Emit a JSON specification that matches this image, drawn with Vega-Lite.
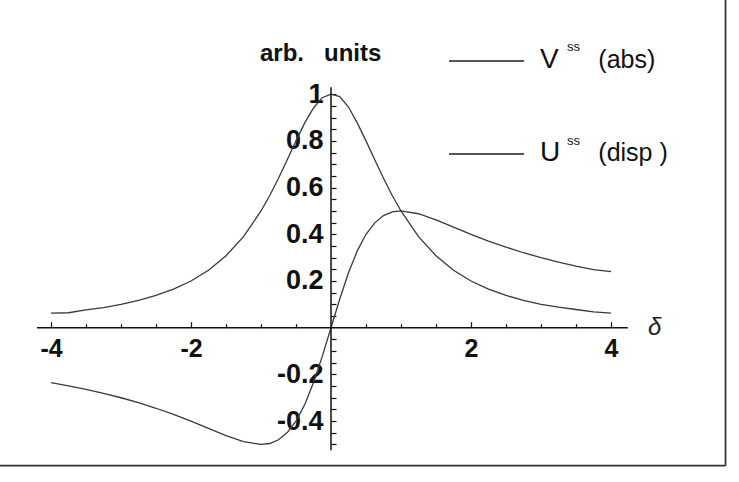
{
  "$schema": "https://vega.github.io/schema/vega-lite/v6.json",
  "width": 739,
  "height": 482,
  "autosize": {"type": "none"},
  "padding": 0,
  "background": "white",
  "config": {"view": {"stroke": null}},
  "datasets": {
    "curves": [
      {"d": -4, "series": "V", "v": 0.062}, {"d": -3.75, "series": "V", "v": 0.064}, {"d": -3.5, "series": "V", "v": 0.076}, {"d": -3.25, "series": "V", "v": 0.086}, {"d": -3, "series": "V", "v": 0.1}, {"d": -2.75, "series": "V", "v": 0.117}, {"d": -2.5, "series": "V", "v": 0.138}, {"d": -2.25, "series": "V", "v": 0.165}, {"d": -2, "series": "V", "v": 0.2}, {"d": -1.75, "series": "V", "v": 0.246}, {"d": -1.5, "series": "V", "v": 0.308}, {"d": -1.25, "series": "V", "v": 0.39}, {"d": -1, "series": "V", "v": 0.5}, {"d": -0.875, "series": "V", "v": 0.566}, {"d": -0.75, "series": "V", "v": 0.64}, {"d": -0.625, "series": "V", "v": 0.719}, {"d": -0.5, "series": "V", "v": 0.8}, {"d": -0.375, "series": "V", "v": 0.877}, {"d": -0.25, "series": "V", "v": 0.941}, {"d": -0.125, "series": "V", "v": 0.985}, {"d": 0, "series": "V", "v": 1.0}, {"d": 0.125, "series": "V", "v": 0.99}, {"d": 0.25, "series": "V", "v": 0.945}, {"d": 0.375, "series": "V", "v": 0.877}, {"d": 0.5, "series": "V", "v": 0.8}, {"d": 0.625, "series": "V", "v": 0.719}, {"d": 0.75, "series": "V", "v": 0.64}, {"d": 0.875, "series": "V", "v": 0.566}, {"d": 1, "series": "V", "v": 0.5}, {"d": 1.25, "series": "V", "v": 0.39}, {"d": 1.5, "series": "V", "v": 0.308}, {"d": 1.75, "series": "V", "v": 0.246}, {"d": 2, "series": "V", "v": 0.2}, {"d": 2.25, "series": "V", "v": 0.165}, {"d": 2.5, "series": "V", "v": 0.138}, {"d": 2.75, "series": "V", "v": 0.117}, {"d": 3, "series": "V", "v": 0.1}, {"d": 3.25, "series": "V", "v": 0.088}, {"d": 3.5, "series": "V", "v": 0.078}, {"d": 3.75, "series": "V", "v": 0.068}, {"d": 4, "series": "V", "v": 0.062},
      {"d": -4, "series": "U", "v": -0.235}, {"d": -3.75, "series": "U", "v": -0.249}, {"d": -3.5, "series": "U", "v": -0.264}, {"d": -3.25, "series": "U", "v": -0.281}, {"d": -3, "series": "U", "v": -0.3}, {"d": -2.75, "series": "U", "v": -0.321}, {"d": -2.5, "series": "U", "v": -0.345}, {"d": -2.25, "series": "U", "v": -0.371}, {"d": -2, "series": "U", "v": -0.4}, {"d": -1.75, "series": "U", "v": -0.431}, {"d": -1.5, "series": "U", "v": -0.462}, {"d": -1.25, "series": "U", "v": -0.488}, {"d": -1, "series": "U", "v": -0.5}, {"d": -0.875, "series": "U", "v": -0.496}, {"d": -0.75, "series": "U", "v": -0.48}, {"d": -0.625, "series": "U", "v": -0.449}, {"d": -0.5, "series": "U", "v": -0.4}, {"d": -0.375, "series": "U", "v": -0.329}, {"d": -0.25, "series": "U", "v": -0.235}, {"d": -0.125, "series": "U", "v": -0.123}, {"d": 0, "series": "U", "v": 0}, {"d": 0.125, "series": "U", "v": 0.123}, {"d": 0.25, "series": "U", "v": 0.235}, {"d": 0.375, "series": "U", "v": 0.329}, {"d": 0.5, "series": "U", "v": 0.4}, {"d": 0.625, "series": "U", "v": 0.449}, {"d": 0.75, "series": "U", "v": 0.48}, {"d": 0.875, "series": "U", "v": 0.496}, {"d": 1, "series": "U", "v": 0.5}, {"d": 1.25, "series": "U", "v": 0.488}, {"d": 1.5, "series": "U", "v": 0.462}, {"d": 1.75, "series": "U", "v": 0.431}, {"d": 2, "series": "U", "v": 0.4}, {"d": 2.25, "series": "U", "v": 0.371}, {"d": 2.5, "series": "U", "v": 0.345}, {"d": 2.75, "series": "U", "v": 0.321}, {"d": 3, "series": "U", "v": 0.3}, {"d": 3.25, "series": "U", "v": 0.281}, {"d": 3.5, "series": "U", "v": 0.264}, {"d": 3.75, "series": "U", "v": 0.249}, {"d": 4, "series": "U", "v": 0.24}
    ],
    "segments": [
      {"kind": "axis", "x": -4.2, "x2": 4.24, "y": 0, "y2": 0},
      {"kind": "axis", "x": 0, "x2": 0, "y": -0.525, "y2": 1.03},
      {"kind": "frame", "x": 5.636, "x2": 5.636, "y": 1.41, "y2": -0.591},
      {"kind": "frame", "x": -4.75, "x2": 5.636, "y": -0.591, "y2": -0.591},
      {"kind": "legend", "x": 1.686, "x2": 2.757, "y": 1.142, "y2": 1.142},
      {"kind": "legend", "x": 1.686, "x2": 2.757, "y": 0.744, "y2": 0.744}
    ],
    "texts": [
      {"kind": "big", "x": 2.986, "y": 1.112, "t": "V"},
      {"kind": "big", "x": 2.986, "y": 0.715, "t": "U"},
      {"kind": "sup", "x": 3.371, "y": 1.186, "t": "ss"},
      {"kind": "sup", "x": 3.371, "y": 0.782, "t": "ss"},
      {"kind": "paren", "x": 3.819, "y": 1.112, "t": "(abs)"},
      {"kind": "paren", "x": 3.819, "y": 0.715, "t": "(disp\u00a0)"}
    ]
  },
  "encoding": {
    "x": {
      "type": "quantitative",
      "scale": {"domain": [-4.7286, 5.8286], "nice": false, "zero": false},
      "axis": {
        "title": null, "orient": "bottom", "offset": -154.3, "domain": false, "grid": false,
        "values": [-4, -3.5, -3, -2.5, -2, -1.5, -1, -0.5, 0.5, 1, 1.5, 2, 2.5, 3, 3.5, 4],
        "labelExpr": "(datum.value % 2 == 0) ? toString(datum.value) : ''",
        "tickColor": "#111", "tickWidth": 1.2,
        "tickSize": {"condition": {"test": "datum.value % 2 == 0", "value": -6}, "value": -4},
        "labelFont": "Liberation Sans", "labelFontWeight": "bold", "labelFontSize": 25, "labelColor": "#111",
        "labelBaseline": "top", "labelPadding": 15, "labelOverlap": false, "labelFlush": false
      }
    },
    "y": {
      "type": "quantitative",
      "scale": {"domain": [-0.6608, 1.4034], "nice": false, "zero": false},
      "axis": {
        "title": null, "orient": "left", "offset": -331, "domain": false, "grid": false,
        "values": [-0.5, -0.45, -0.4, -0.35, -0.3, -0.25, -0.2, -0.15, -0.1, -0.05, 0.05, 0.1, 0.15, 0.2, 0.25, 0.3, 0.35, 0.4, 0.45, 0.5, 0.55, 0.6, 0.65, 0.7, 0.75, 0.8, 0.85, 0.9, 0.95, 1],
        "labelExpr": "indexof(['1','0.8','0.6','0.4','0.2','-0.2','-0.4'], toString(datum.value)) >= 0 ? toString(datum.value) : ''",
        "tickColor": "#111", "tickWidth": 1.2, "tickSize": -5,
        "labelFont": "Liberation Sans", "labelFontWeight": "bold", "labelFontSize": 27, "labelColor": "#111",
        "labelPadding": 13, "labelOverlap": false
      }
    }
  },
  "layer": [
    {
      "data": {"name": "curves"},
      "mark": {"type": "line", "color": "#3a3a3a", "strokeWidth": 1.3},
      "encoding": {
        "x": {"field": "d"},
        "y": {"field": "v"},
        "detail": {"field": "series", "type": "nominal"}
      }
    },
    {
      "data": {"name": "segments"},
      "mark": {"type": "rule"},
      "encoding": {
        "x": {"field": "x"},
        "x2": {"field": "x2"},
        "y": {"field": "y"},
        "y2": {"field": "y2"},
        "color": {"field": "kind", "type": "nominal", "legend": null,
          "scale": {"domain": ["axis", "frame", "legend"], "range": ["#111111", "#333333", "#555555"]}},
        "strokeWidth": {"field": "kind", "type": "nominal", "legend": null,
          "scale": {"domain": ["axis", "frame", "legend"], "range": [1.5, 2, 1]}}
      }
    },
    {
      "data": {"values": [{"x": -1.014, "y": 1.1435, "t": "arb.\u00a0\u00a0\u00a0units"}]},
      "mark": {"type": "text", "align": "left", "baseline": "alphabetic", "font": "Liberation Sans", "fontWeight": "bold", "fontSize": 24, "color": "#111"},
      "encoding": {
        "x": {"field": "x"},
        "y": {"field": "y"},
        "text": {"field": "t"}
      }
    },
    {
      "data": {"values": [{"x": 4.529, "y": -0.031, "t": "δ"}]},
      "mark": {"type": "text", "align": "left", "baseline": "alphabetic", "font": "Liberation Sans", "fontStyle": "italic", "fontSize": 24, "color": "#222"},
      "encoding": {
        "x": {"field": "x"},
        "y": {"field": "y"},
        "text": {"field": "t"}
      }
    },
    {
      "data": {"name": "texts"},
      "transform": [{"filter": "datum.kind == 'big'"}],
      "mark": {"type": "text", "align": "left", "baseline": "alphabetic", "font": "Liberation Sans", "fontSize": 28, "color": "#111"},
      "encoding": {
        "x": {"field": "x"},
        "y": {"field": "y"},
        "text": {"field": "t"}
      }
    },
    {
      "data": {"name": "texts"},
      "transform": [{"filter": "datum.kind == 'sup'"}],
      "mark": {"type": "text", "align": "left", "baseline": "alphabetic", "font": "Liberation Sans", "fontSize": 13, "color": "#111"},
      "encoding": {
        "x": {"field": "x"},
        "y": {"field": "y"},
        "text": {"field": "t"}
      }
    },
    {
      "data": {"name": "texts"},
      "transform": [{"filter": "datum.kind == 'paren'"}],
      "mark": {"type": "text", "align": "left", "baseline": "alphabetic", "font": "Liberation Sans", "fontSize": 25, "color": "#111"},
      "encoding": {
        "x": {"field": "x"},
        "y": {"field": "y"},
        "text": {"field": "t"}
      }
    }
  ]
}
